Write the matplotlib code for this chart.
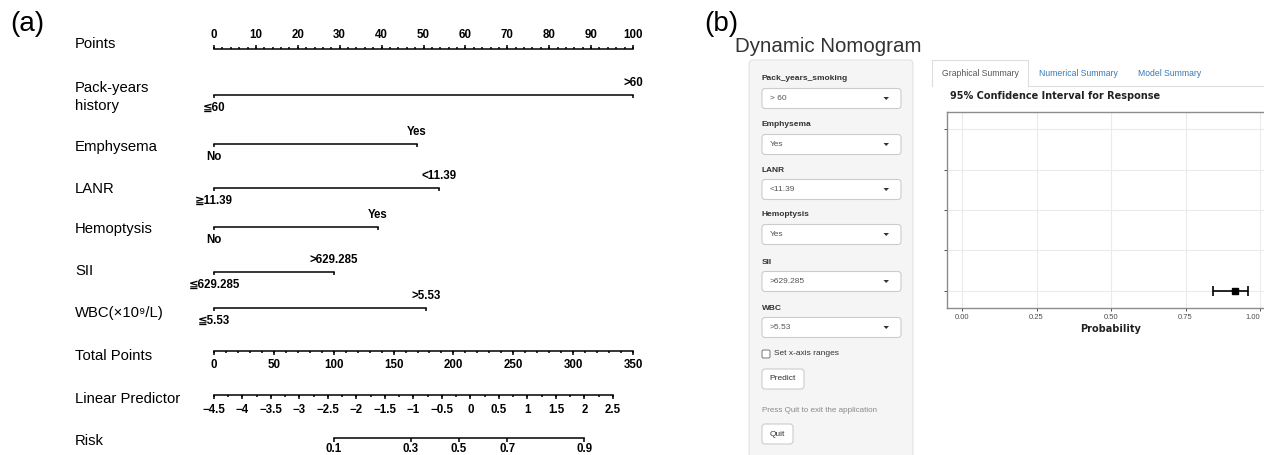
import numpy as np
import matplotlib
matplotlib.use("Agg")
import matplotlib.pyplot as plt
from matplotlib.patches import FancyBboxPatch, Polygon

plt.rcParams['font.family'] = ['Liberation Sans', 'DejaVu Sans']

# ---- (a) static nomogram ----
points_major = np.arange(0, 101, 10)
points_minor = np.arange(0, 101, 2)
var_names = ["Pack-years\nhistory", "Emphysema", "LANR", "Hemoptysis", "SII", "WBC(×10⁹/L)"]
low_levels = ["≦60", "No", "≧11.39", "No", "≦629.285", "≦5.53"]
high_levels = [">60", "Yes", "<11.39", "Yes", ">629.285", ">5.53"]
high_points = [100, 48.4, 53.7, 39.1, 28.6, 50.6]
total_major = np.arange(0, 351, 50)
total_minor = np.arange(0, 351, 10)
lp_major = np.arange(-4.5, 2.51, 0.5)
lp_minor = np.arange(-4.5, 2.51, 0.25)
lp_start = -4.5       # linear predictor at 0 total points
tp_per_lp = 47.6      # total points per unit of linear predictor
risk_ticks = [0.1, 0.3, 0.5, 0.7, 0.9]
risk_mid_tp = 204.7   # total points where risk = 0.5

# ---- (b) dynamic nomogram app ----
inputs = ["Pack_years_smoking", "Emphysema", "LANR", "Hemoptysis", "SII", "WBC"]
choices = ["> 60", "Yes", "<11.39", "Yes", ">629.285", ">5.53"]
tabs = ["Graphical Summary", "Numerical Summary", "Model Summary"]
prob_ticks = [0.0, 0.25, 0.5, 0.75, 1.0]
prob_labels = ["0.00", "0.25", "0.50", "0.75", "1.00"]
pred_prob = 0.916
pred_lower = 0.842
pred_upper = 0.960

W, H = 1264, 455
fig = plt.figure(figsize=(W / 100, H / 100), dpi=100)

# full-figure overlay in pixel units for the app widgets
ui = fig.add_axes([0, 0, 1, 1])
ui.set_xlim(0, W)
ui.set_ylim(H, 0)
ui.axis("off")

# nomogram axes: x in points, y in pixel rows
x0, ppx = 214, 4.19
nom = fig.add_axes([0, 0, 1, 1])
nom.set_xlim(-x0 / ppx, (W - x0) / ppx)
nom.set_ylim(H, 0)
nom.axis("off")
nom.patch.set_alpha(0)

row_y = [49, 95, 144, 188, 227, 272, 308, 351, 395, 438]
name_y = [44, 97, 147, 189, 229, 271, 313, 356, 399, 441]
lab_fs = 10.7
tk_fs = 8.3
lw = 1.1


def tp2x(tp):
    return np.asarray(tp) * 100 / 350


def fmt(v):
    return f"{v:g}".replace("-", "−")


fig.text(10 / W, 1 - 24 / H, "(a)", fontsize=20, va="center", ha="left")
fig.text(704 / W, 1 - 24 / H, "(b)", fontsize=20, va="center", ha="left")

names = ["Points"] + var_names + ["Total Points", "Linear Predictor", "Risk"]
for nm, yy in zip(names, name_y):
    nom.text(-x0 / ppx + 75 / ppx, yy, nm, fontsize=lab_fs, va="center", ha="left",
             linespacing=1.35)

# points scale
y = row_y[0]
nom.plot([0, 100], [y, y], color="k", lw=lw)
nom.vlines(points_major, y - 4, y, color="k", lw=lw)
nom.vlines(points_minor, y - 2, y, color="k", lw=lw)
for v in points_major:
    nom.text(v, y - 14, fmt(v), fontsize=tk_fs, weight="bold", ha="center", va="center")

# predictors
for i in range(len(var_names)):
    y = row_y[i + 1]
    hp = high_points[i]
    nom.plot([0, hp], [y, y], color="k", lw=lw)
    nom.vlines([0, hp], y, y + 3, color="k", lw=lw)
    nom.text(hp, y - 12, high_levels[i], fontsize=tk_fs, weight="bold", ha="center", va="center")
    nom.text(0, y + 13, low_levels[i], fontsize=tk_fs, weight="bold", ha="center", va="center")

# total points
y = row_y[7]
nom.plot(tp2x([0, 350]), [y, y], color="k", lw=lw)
nom.vlines(tp2x(total_major), y, y + 4, color="k", lw=lw)
nom.vlines(tp2x(total_minor), y, y + 2, color="k", lw=lw)
for v in total_major:
    nom.text(tp2x(v), y + 14, fmt(v), fontsize=tk_fs, weight="bold", ha="center", va="center")

# linear predictor
y = row_y[8]
lpx = tp2x((lp_major - lp_start) * tp_per_lp)
nom.plot([lpx[0], lpx[-1]], [y, y], color="k", lw=lw)
nom.vlines(lpx, y, y + 4, color="k", lw=lw)
nom.vlines(tp2x((lp_minor - lp_start) * tp_per_lp), y, y + 2, color="k", lw=lw)
for v, xx in zip(lp_major, lpx):
    nom.text(xx, y + 15, fmt(round(v, 2)), fontsize=tk_fs, weight="bold", ha="center", va="center")

# risk
y = row_y[9]
rk = np.array(risk_ticks)
rx = tp2x(risk_mid_tp + tp_per_lp * np.log(rk / (1 - rk)))
nom.plot([rx[0], rx[-1]], [y, y], color="k", lw=lw)
nom.vlines(rx, y, y + 4, color="k", lw=lw)
for v, xx in zip(risk_ticks, rx):
    nom.text(xx, y + 5, fmt(v), fontsize=tk_fs, weight="bold", ha="center", va="top")

# ---- app ----
ui.text(735, 47, "Dynamic Nomogram", fontsize=14.8, color="#333333", va="center", ha="left")

ui.add_patch(FancyBboxPatch((749, 60), 164, 400, boxstyle="round,pad=0,rounding_size=4",
                            fc="#f5f5f5", ec="#e3e3e3", lw=0.8))

lab_y = [79, 125, 170, 215, 262, 308]
for nm, ch, ly in zip(inputs, choices, lab_y):
    ui.text(762, ly, nm, fontsize=6, weight="bold", color="#333333", va="center", ha="left")
    top = ly + 9.5
    ui.add_patch(FancyBboxPatch((762, top), 139, 20, boxstyle="round,pad=0,rounding_size=3",
                                fc="white", ec="#cccccc", lw=0.8))
    ui.text(770, top + 10, ch, fontsize=6, color="#555555", va="center", ha="left")
    ui.add_patch(Polygon([[883.5, top + 8.5], [889, top + 8.5], [886.2, top + 11.5]],
                         closed=True, fc="#333333", ec="none"))

ui.add_patch(FancyBboxPatch((762, 350), 8, 8, boxstyle="round,pad=0,rounding_size=1.5",
                            fc="white", ec="#767676", lw=0.7))
ui.text(774, 353.5, "Set x-axis ranges", fontsize=6, color="#333333", va="center", ha="left")

ui.add_patch(FancyBboxPatch((762, 369), 42, 20, boxstyle="round,pad=0,rounding_size=3",
                            fc="white", ec="#cccccc", lw=0.8))
ui.text(783, 379, "Predict", fontsize=6, color="#333333", va="center", ha="center")
ui.text(762, 411, "Press Quit to exit the application", fontsize=5.8, color="#8a8a8a",
        va="center", ha="left")
ui.add_patch(FancyBboxPatch((762, 424), 31, 20, boxstyle="round,pad=0,rounding_size=3",
                            fc="white", ec="#cccccc", lw=0.8))
ui.text(777.5, 434, "Quit", fontsize=6, color="#333333", va="center", ha="center")

# tabs
ui.plot([932, 932, 1028, 1028], [86, 60, 60, 86], color="#dddddd", lw=0.8)
ui.plot([1028, W], [86, 86], color="#dddddd", lw=0.8)
tab_x = [980, 1078, 1170]
tab_c = ["#555555", "#337ab7", "#337ab7"]
for t, tx, tc in zip(tabs, tab_x, tab_c):
    ui.text(tx, 73, t, fontsize=6.2, color=tc, va="center", ha="center")

ui.text(950, 96, "95% Confidence Interval for Response", fontsize=7, weight="bold",
        family="DejaVu Sans", color="#222222", va="center", ha="left")

# CI plot
px0, ppu = 962, 298
left, right = px0 - 0.05 * ppu, px0 + 1.05 * ppu
top, bot = 112, 308
ax = fig.add_axes([left / W, 1 - bot / H, (right - left) / W, (bot - top) / H])
ax.set_xlim(-0.05, 1.05)
ax.set_ylim(0.58, 5.42)
ax.set_xticks(prob_ticks)
ax.set_xticklabels(prob_labels)
ax.set_yticks([1, 2, 3, 4, 5])
ax.set_yticklabels([])
ax.grid(True, color="#ebebeb", lw=0.8)
ax.set_axisbelow(True)
for s in ax.spines.values():
    s.set_color("#8c8c8c")
    s.set_linewidth(1.0)
ax.tick_params(axis="both", length=2.5, width=0.6, color="#333333", labelsize=5.5,
               labelcolor="#4d4d4d", pad=2)
# the right edge of the figure cuts the last label, so keep it inside
ax.get_xticklabels()[-1].set_horizontalalignment("right")
ax.errorbar([pred_prob], [1], xerr=[[pred_prob - pred_lower], [pred_upper - pred_prob]],
            fmt="s", color="black", ms=5, capsize=3.5, elinewidth=1.2, capthick=1.2)
ax.set_xlabel("Probability", fontsize=7, weight="bold", family="DejaVu Sans",
              color="#222222", labelpad=2)

fig.savefig("out.png", dpi=100)
